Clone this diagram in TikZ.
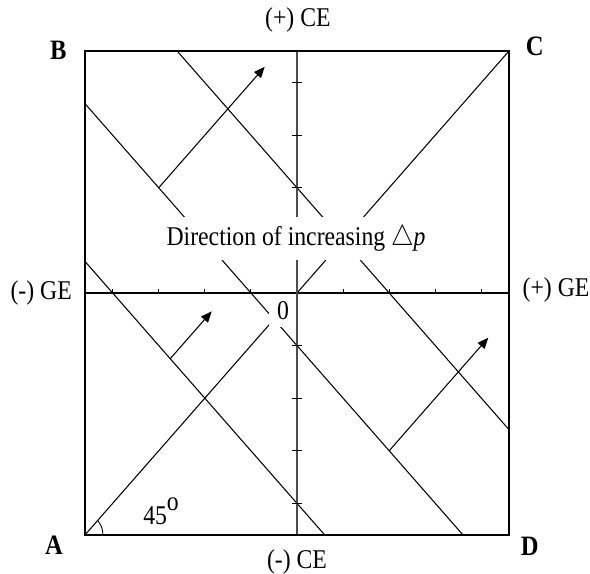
\documentclass[tikz,border=0pt]{standalone}
\usepackage{fontspec}
\setmainfont{Liberation Serif}
\usetikzlibrary{arrows.meta}

\begin{document}
\begin{tikzpicture}[
  x=0.922cm, y=0.922cm, yscale=1.141, transform shape,
  every node/.style={font=\fontsize{13.5}{16}\selectfont},
  frame/.style={draw, line width=0.85pt},
  isoline/.style={line width=0.6pt},
  dirarrow/.style={line width=0.6pt, -{Triangle[length=0.22cm,width=0.18cm]}},
  cornerlbl/.style={font=\fontsize{14}{16}\selectfont\bfseries},
  blank/.style={fill=white, inner xsep=0.16cm, inner ysep=0.13cm}]
\useasboundingbox (-6.443,-5.342) rectangle (6.356,5.570);
% corners of the field
\coordinate (A) at (-4.6,-4.6);
\coordinate (B) at (-4.6,4.6);
\coordinate (C) at (4.6,4.6);
\coordinate (D) at (4.6,-4.6);
% lines of equal p, slope -1
\begin{scope}
  \clip (A) rectangle (C);
  \foreach \c in {2,-1,-4}
    \draw[isoline] (\c-6,6) -- (\c+6,-6);
\end{scope}
\draw[isoline] (A) -- (C);
\node[blank] (zero) at (-0.30,-0.34) {0};
% axes
\draw[line width=0.85pt] (-4.6,0) -- (4.6,0);
\draw[line width=1.4pt, black!70] (0,-4.6) -- (0,4.6);
\foreach \k in {-4,-3,-2,-1,1,2,3,4} {
  \draw[line width=0.6pt] (\k,0) -- (\k,0.08);
  \draw[line width=0.6pt] (-0.1,\k) -- (0.1,\k);}
\draw[frame] (A) rectangle (C);
\node[fill=white, inner xsep=0.1cm, inner ysep=0.15cm] (dir) at (-0.02,1.03)
  {Direction of increasing $\triangle$\textit{p}};
% arrows
\foreach \sx/\sy/\len in {-3/2/2.3, -2.75/-1.25/0.9, 2/-3/2.15}
  \draw[dirarrow] (\sx,\sy) -- ++(\len,\len);
% labels
\node[cornerlbl] (lblA) at (-5.27,-4.79) {A};
\node[cornerlbl] (lblB) at (-5.18,4.62) {B};
\node[cornerlbl] (lblC) at (5.16,4.68) {C};
\node[cornerlbl] (lblD) at (5.05,-4.81) {D};
\node (ceplus) at (0.02,5.19) {(+) CE};
\node (ceminus) at (0,-5.11) {(-) CE};
\node (geminus) at (-5.55,0) {(-) GE};
\node (geplus) at (5.62,0.05) {(+) GE};
\node[anchor=base west] (ang) at (-3.47,-4.41) {45\raisebox{1.2ex}{o}};
\draw[line width=0.5pt] (A) ++(0.39,0) arc[start angle=0,end angle=45,radius=0.39];
\end{tikzpicture}
\end{document}
